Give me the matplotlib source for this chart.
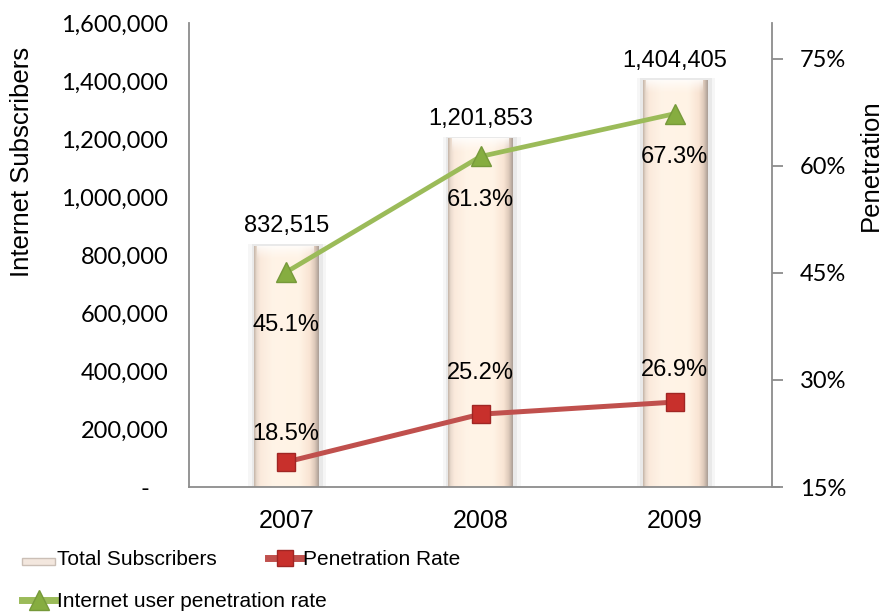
import matplotlib
matplotlib.use("Agg")
import matplotlib.pyplot as plt
import numpy as np
from matplotlib.colors import LinearSegmentedColormap
from matplotlib.lines import Line2D
from matplotlib.patches import Rectangle
from matplotlib.legend_handler import HandlerPatch

# ---- data ----
years = ["2007", "2008", "2009"]
subscribers = [832515, 1201853, 1404405]
penetration_rate = [0.185, 0.252, 0.269]
internet_user_rate = [0.451, 0.613, 0.673]
left_ticks = [0, 200000, 400000, 600000, 800000, 1000000, 1200000, 1400000, 1600000]
right_ticks = [0.15, 0.30, 0.45, 0.60, 0.75]

# label offsets in points (dy) for the line value labels
red_label_dy = [20, 30, 23]
green_label_dy = [-38, -31, -31]

SANS = "Liberation Sans"
TICKF = "Lato"

W, H = 884, 614
fig = plt.figure(figsize=(W / 100, H / 100), dpi=100)
L, R, B, T = 189, 772, 487, 23
ax = fig.add_axes([L / W, 1 - B / H, (R - L) / W, (B - T) / H])
ax2 = ax.twinx()

x = np.arange(len(years))
ax.set_xlim(-0.5, len(years) - 0.5)
ax.set_ylim(0, 1600000)
ax2.set_ylim(0.15, 0.80)

# ---- bars with cylinder-like gradient ----
bar_w = 0.33
grad = LinearSegmentedColormap.from_list(
    "cyl",
    [(0.0, "#c3b3a6"), (0.04, "#eadbce"), (0.10, "#fbeadc"),
     (0.30, "#fff4e7"), (0.70, "#fff3e5"), (0.86, "#f9e4d3"),
     (0.94, "#dcc8b9"), (1.0, "#a99d95")])
bars = ax.bar(x, subscribers, width=bar_w, color="#fff2e4",
              edgecolor="none", zorder=2)
gimg = np.linspace(0, 1, 256).reshape(1, -1)
for b in bars:
    x0, w, h = b.get_x(), b.get_width(), b.get_height()
    # soft halo around each bar
    for pad_, a_ in ((0.035, 0.035), (0.018, 0.05)):
        ax.add_patch(Rectangle((x0 - pad_ + 0.006, 0), w + 2 * pad_, h + 6000,
                               facecolor="#000000", alpha=a_, edgecolor="none",
                               zorder=1.5))
    im = ax.imshow(gimg, cmap=grad, aspect="auto",
                   extent=(x0, x0 + w, 0, h), zorder=2.1, interpolation="bicubic")
    im.set_clip_path(b)
    # top highlight
    top = np.linspace(0, 1, 64).reshape(-1, 1)
    hl = ax.imshow(np.dstack([np.ones_like(top)] * 3 + [0.85 * (1 - top) ** 1.3]),
                   aspect="auto", extent=(x0 + w * 0.05, x0 + w * 0.93, h - 50000, h),
                   zorder=2.2)
    hl.set_clip_path(b)
    ax.text(b.get_x() + w / 2, h + 28000, f"{h:,.0f}", ha="center", va="bottom",
            fontsize=17, family=SANS, zorder=5)

# ---- lines ----
ax2.plot(x, penetration_rate, color="#c0504d", lw=3.6, marker="s", ms=13,
         mfc="#c8302c", mec="#a02624", mew=1, zorder=4, solid_capstyle="butt")
ax2.plot(x, internet_user_rate, color="#9bbb59", lw=3.4, marker="^", ms=15,
         mfc="#86ad40", mec="#76993a", mew=1, zorder=4, solid_capstyle="butt")
for xi, v, dy in zip(x, penetration_rate, red_label_dy):
    ax2.annotate(f"{v*100:.1f}%", (xi, v), xytext=(0, dy), textcoords="offset points",
                 ha="center", va="center", fontsize=17, family=SANS, zorder=5)
for xi, v, dy in zip(x, internet_user_rate, green_label_dy):
    ax2.annotate(f"{v*100:.1f}%", (xi, v), xytext=(0, dy), textcoords="offset points",
                 ha="center", va="center", fontsize=17, family=SANS, zorder=5)

ax2.set_zorder(ax.get_zorder() + 1)
ax2.patch.set_visible(False)

# ---- axes styling ----
spine_c = "#8c8c8c"
for a in (ax, ax2):
    a.spines["top"].set_visible(False)
    for s in ("left", "right", "bottom"):
        a.spines[s].set_color(spine_c)
        a.spines[s].set_linewidth(1.3)
ax.spines["right"].set_visible(False)
ax2.spines["left"].set_visible(False)
ax2.spines["bottom"].set_visible(False)
# baseline runs on past the right axis by the tick length
ax.plot([1.0, 1.0 + 8 / (R - L)], [0, 0], transform=ax.transAxes, color=spine_c,
        lw=1.3, clip_on=False, solid_capstyle="butt")

ax.set_xticks(x)
ax.set_xticklabels(years, fontsize=18, family=SANS)
ax.tick_params(axis="x", length=0, pad=16)
ax.set_yticks(left_ticks)
ax.set_yticklabels([f"{v:,}" if v else "-   " for v in left_ticks],
                   fontsize=17, family=TICKF)
ax.tick_params(axis="y", length=0, pad=15)

ax2.set_yticks(right_ticks)
ax2.set_yticklabels([f"{v*100:.0f}%" for v in right_ticks], fontsize=17, family=TICKF)
ax2.tick_params(axis="y", length=8, width=1.3, color=spine_c, pad=12)

fig.text(22 / W, 1 - 162 / H, "Internet Subscribers", rotation=90, ha="center",
         va="center", fontsize=18.5, family=SANS)
fig.text(871 / W, 1 - 165 / H, "Penetration", rotation=90, ha="center",
         va="center", fontsize=18.5, family=SANS)


# ---- legend ----
class FlatBarHandler(HandlerPatch):
    def create_artists(self, legend, orig_handle, xdescent, ydescent, width,
                       height, fontsize, trans):
        r = Rectangle((-xdescent, -ydescent), width, height * 0.5,
                      facecolor="#f3e7de", edgecolor="#cbbfb6", lw=1,
                      transform=trans)
        return [r]


h_bar = Rectangle((0, 0), 1, 1)
h_red = Line2D([], [], color="#c0504d", lw=5, marker="s", ms=12,
               mfc="#c8302c", mec="#a02624")
h_green = Line2D([], [], color="#9bbb59", lw=5, marker="^", ms=14,
                 mfc="#86ad40", mec="#76993a")
leg_kw = dict(loc="upper left", frameon=False, prop={"family": SANS, "size": 15},
              handlelength=1.6, handletextpad=0.1, labelspacing=1.1,
              borderaxespad=0, borderpad=0)
leg1 = fig.legend([h_bar, h_green], ["Total Subscribers", "Internet user penetration rate"],
                  handler_map={Rectangle: FlatBarHandler()},
                  bbox_to_anchor=(22 / W, 1 - 550 / H), **leg_kw)
leg2 = fig.legend([h_red], ["Penetration Rate"],
                  bbox_to_anchor=(268 / W, 1 - 550 / H), **leg_kw)

fig.savefig("out.png", dpi=100)
